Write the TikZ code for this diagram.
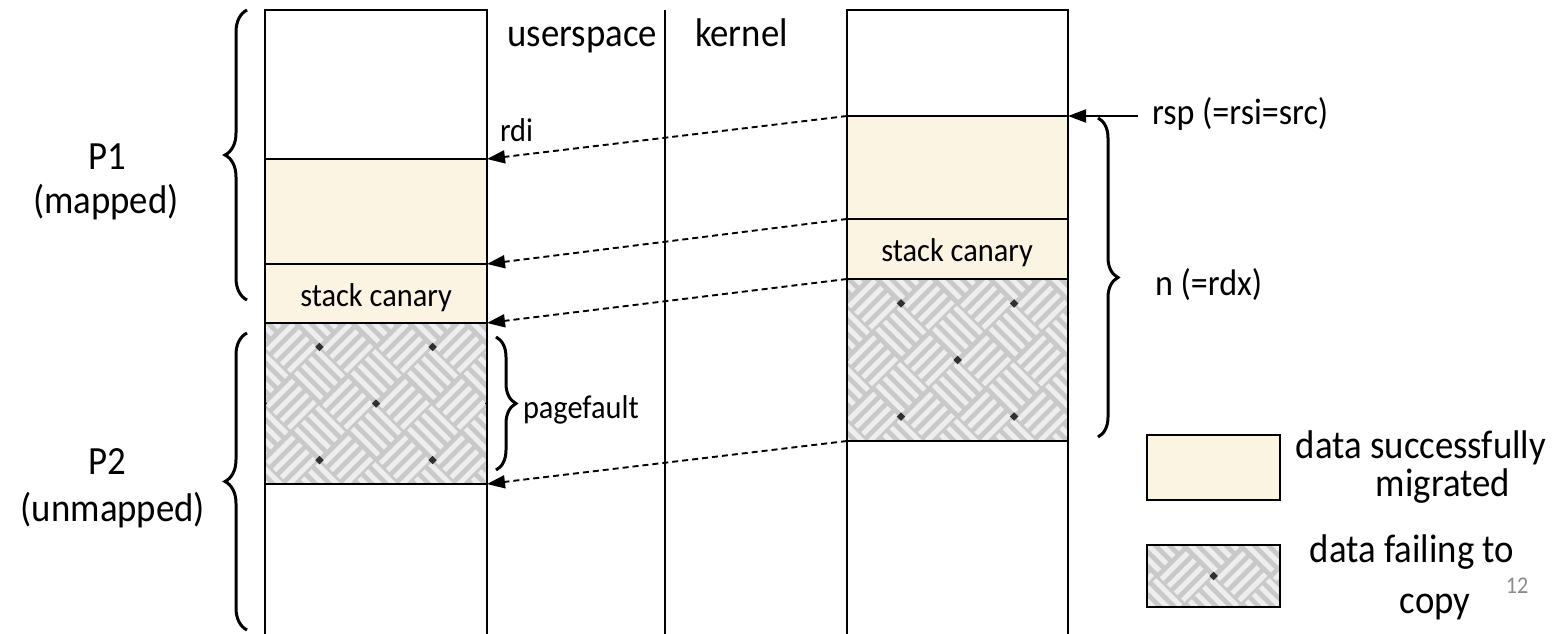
\documentclass[tikz,border=0pt]{standalone}
\usepackage{fontspec}
\setmainfont{Carlito}[FakeStretch=0.92]
\usetikzlibrary{arrows.meta,decorations.pathreplacing}

\definecolor{cream}{HTML}{FCF4E2}
\definecolor{weavegray}{HTML}{C9C9C9}
\definecolor{weavelight}{HTML}{EEEEEE}
\definecolor{weavedark}{HTML}{303030}
\definecolor{pagenum}{HTML}{8C8C8C}

% basket-weave fill: #1,#2 = one corner, #3,#4 = opposite corner
\newcommand\weavefill[4]{%
  \begin{scope}
    \clip (#1,#2) rectangle (#3,#4);
    \fill[weavegray] (#1,#2) rectangle (#3,#4);
    \begin{scope}[shift={({(#1+#3)/2},{(#2+#4)/2})},rotate=45]
      \foreach \i in {-5,...,4}{
        \foreach \j in {-5,...,4}{
          \pgfmathtruncatemacro\wpar{mod(\i+\j+20,2)}
          \ifnum\wpar=0
            \foreach \k in {0,...,3}
              \fill[weavelight] (\i*40+1,\j*40+\k*10+3) rectangle ++(37,5);
          \else
            \foreach \k in {0,...,3}
              \fill[weavelight] (\i*40+\k*10+3,\j*40+1) rectangle ++(5,37);
          \fi
        }}
      \foreach \i in {-3,...,3}{
        \foreach \j in {-3,...,3}{
          \fill[weavedark] (\i*80-3,\j*80-3) rectangle ++(6,6);
        }}
    \end{scope}
  \end{scope}}

\tikzset{
  every node/.style={inner sep=0pt,outer sep=0pt},
  bigtxt/.style={font=\fontsize{40}{46}\selectfont},
  midtxt/.style={font=\fontsize{37}{42}\selectfont},
  smalltxt/.style={font=\fontsize{33}{38}\selectfont},
  wall/.style={line width=2.3pt},
  copyarrow/.style={line width=1.9pt,dash pattern=on 6pt off 4pt,
    -{Triangle[length=18pt,width=13pt]}},
  ptrarrow/.style={line width=1.9pt,-{Triangle[length=18pt,width=13pt]}},
  curly/.style={line width=3pt,decorate,
    decoration={brace,amplitude=#1,aspect=0.5}},
}

\begin{document}
\begin{tikzpicture}[x=1pt,y=-1pt]
\useasboundingbox[fill=white] (0,0) rectangle (1555,634);

% ---------- user stack (left column) ----------
\fill[cream] (265,159) rectangle (487,323);
\weavefill{265}{323}{487}{484}
\draw[wall] (265,634) -- (265,10) -- (487,10) -- (487,634);
\draw[wall] (265,159) -- (487,159);
\draw[wall] (265,264) -- (487,264);
\draw[wall] (265,323) -- (487,323);
\draw[wall] (265,484) -- (487,484);

% ---------- kernel stack (right column) ----------
\fill[cream] (847,116) rectangle (1068,279);
\weavefill{847}{279}{1068}{441}
\draw[wall] (847,634) -- (847,10) -- (1068,10) -- (1068,634);
\draw[wall] (847,116) -- (1068,116);
\draw[wall] (847,219) -- (1068,219);
\draw[wall] (847,279) -- (1068,279);
\draw[wall] (847,441) -- (1068,441);

% userspace / kernel boundary
\draw[wall] (665,10) -- (665,634);

% ---------- anchor points ----------
\coordinate (ktop)   at (847,116);
\coordinate (kcan)   at (847,219);
\coordinate (kfail)  at (847,279);
\coordinate (kend)   at (847,441);
\coordinate (utop)   at (487,159);
\coordinate (ucan)   at (487,264);
\coordinate (ufail)  at (487,323);
\coordinate (uend)   at (487,484);
\coordinate (rspend) at (1068,116);
\coordinate (rspsrc) at (1138,116);

% ---------- copy arrows ----------
\draw[copyarrow] (ktop)  -- (utop);
\draw[copyarrow] (kcan)  -- (ucan);
\draw[copyarrow] (kfail) -- (ufail);
\draw[copyarrow] (kend)  -- (uend);
\draw[ptrarrow]  (rspsrc) -- (rspend);

% ---------- braces ----------
\draw[curly=22pt] (247,300) -- (247,10);
\draw[curly=22pt] (247,630) -- (247,333);
\draw[curly=20pt] (496,337) -- (496,470);
\draw[curly=20pt] (1098,118) -- (1098,437);

% ---------- labels ----------
\node[bigtxt,anchor=base east] (lus) at (657,47) {userspace};
\node[bigtxt,anchor=base west] (lk) at (695,47) {kernel};
\node[smalltxt,anchor=base west] (lrdi) at (500,141) {rdi};
\node[bigtxt,anchor=base] (lp1) at (107,169) {P1};
\node[bigtxt,anchor=base] (lp1b) at (106,213) {(mapped)};
\node[bigtxt,anchor=base] (lp2) at (107,474) {P2};
\node[bigtxt,anchor=base] (lp2b) at (113,521) {(unmapped)};
\node[smalltxt,anchor=base] (lcanu) at (376,306) {stack canary};
\node[smalltxt,anchor=base] (lcank) at (957,261) {stack canary};
\node[smalltxt,anchor=base west] (lpf) at (523,418) {pagefault};
\node[midtxt,anchor=base west] (lrsp) at (1152,124) {rsp (=rsi=src)};
\node[midtxt,anchor=base west] (ln) at (1155,295) {n (=rdx)};

% ---------- legend ----------
\fill[cream] (1147,435) rectangle (1280,500);
\draw[wall] (1147,435) rectangle (1280,500);
\weavefill{1147}{545}{1280}{607}
\draw[wall] (1147,545) rectangle (1280,607);
\node[bigtxt,anchor=base] (lg1) at (1421,458) {data successfully};
\node[bigtxt,anchor=base] (lg2) at (1443,496) {migrated};
\node[bigtxt,anchor=base] (lg3) at (1412,562) {data failing to};
\node[bigtxt,anchor=base] (lg4) at (1435,613) {copy};
\node[font=\fontsize{24}{26}\selectfont,text=pagenum,anchor=base] (lnum) at (1517,593) {12};
\end{tikzpicture}
\end{document}
